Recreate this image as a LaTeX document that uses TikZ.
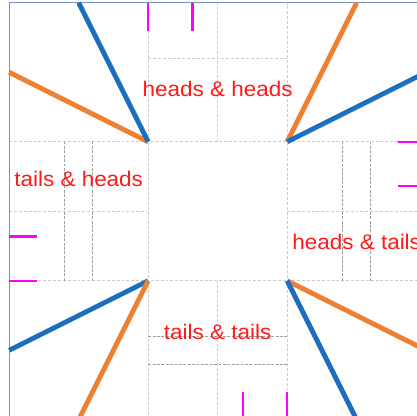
\documentclass[tikz,border=0pt]{standalone}
\usepackage{fontspec}
\setmainfont{Liberation Sans}
\usepackage{tikz}
\definecolor{lineblue}{RGB}{28,110,190}
\definecolor{lineorange}{RGB}{238,128,50}
\definecolor{framecol}{RGB}{120,145,195}
\definecolor{tickmag}{RGB}{255,0,255}
\definecolor{labelred}{RGB}{255,25,25}
\tikzset{
  gridline/.style={draw=gray!40, line width=0.7pt, dash pattern=on 3pt off 2pt},
  tickline/.style={draw=gray!75, line width=0.7pt, dash pattern=on 3pt off 1.5pt},
  bluestroke/.style={draw=lineblue, line width=5pt},
  orangestroke/.style={draw=lineorange, line width=5pt},
  marker/.style={draw=tickmag, line width=2.4pt},
  caselabel/.style={text=labelred, anchor=base, inner sep=0pt, font=\fontsize{23}{27}\selectfont}
}
\newcommand{\squash}[1]{\scalebox{1}[0.94]{#1}}

\begin{document}
\begin{tikzpicture}
  \useasboundingbox (-5.33,-4.864) rectangle (9.67,10.1);
  \draw[gridline] (0,-5) -- (0,10);
  \draw[gridline] (5,-5) -- (5,10);
  \draw[gridline] (-5,0) -- (10,0);
  \draw[gridline] (-5,5) -- (10,5);
  \draw[gridline] (2.5,-5) -- (2.5,0);
  \draw[gridline] (2.5,5) -- (2.5,10);
  \draw[gridline] (-5,2.5) -- (0,2.5);
  \draw[gridline] (5,2.5) -- (10,2.5);
  \draw[gridline] (0,8) -- (5,8);
  \draw[tickline] (-3,0) -- (-3,5);
  \draw[tickline] (-2,0) -- (-2,5);
  \draw[tickline] (7,0) -- (7,5);
  \draw[tickline] (8,0) -- (8,5);
  \draw[tickline] (0,-2) -- (5,-2);
  \draw[tickline] (0,-3) -- (5,-3);
  \draw[framecol, line width=0.9pt] (-5,-5) rectangle (10,10);
  \coordinate (tl) at (0,5);
  \coordinate (tr) at (5,5);
  \coordinate (bl) at (0,0);
  \coordinate (br) at (5,0);
  \draw[orangestroke] (tl) -- (-5,7.5);
  \draw[bluestroke] (tl) -- (-2.5,10);
  \draw[orangestroke] (tr) -- (7.5,10);
  \draw[bluestroke] (tr) -- (10,7.5);
  \draw[bluestroke] (bl) -- (-5,-2.5);
  \draw[orangestroke] (bl) -- (-2.5,-5);
  \draw[orangestroke] (br) -- (10,-2.5);
  \draw[bluestroke] (br) -- (7.5,-5);
  \draw[marker] (0,9) -- (0,10);
  \draw[marker] (1.59,9) -- (1.59,10);
  \draw[marker] (-5,0) -- (-4,0);
  \draw[marker] (-5,1.59) -- (-4,1.59);
  \draw[marker] (9,5) -- (10,5);
  \draw[marker] (9,3.41) -- (10,3.41);
  \draw[marker] (3.41,-5) -- (3.41,-4);
  \draw[marker] (5,-5) -- (5,-4);
  \node[caselabel] (hh) at (2.5,6.63) {\squash{heads \& heads}};
  \node[caselabel] (th) at (-2.5,3.39) {\squash{tails \& heads}};
  \node[caselabel] (ht) at (7.5,1.12) {\squash{heads \& tails}};
  \node[caselabel] (tt) at (2.5,-2.13) {\squash{tails \& tails}};
\end{tikzpicture}
\end{document}
